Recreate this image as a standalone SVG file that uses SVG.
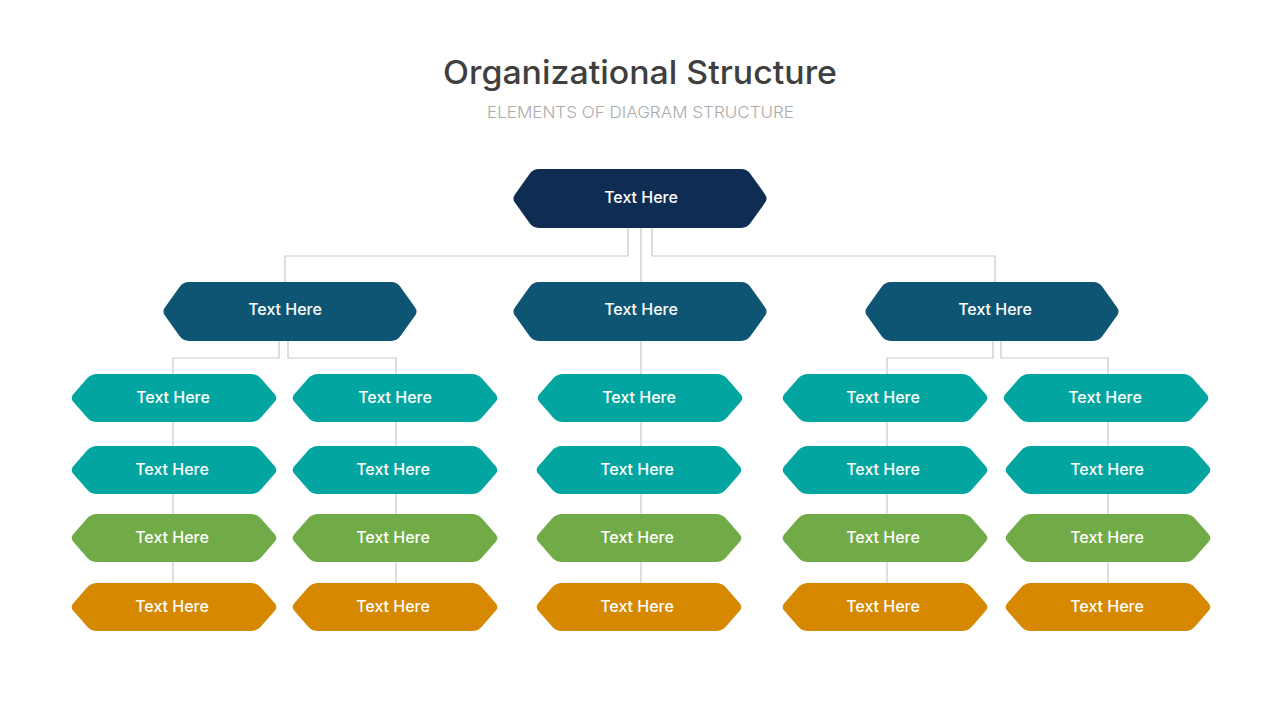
<svg xmlns="http://www.w3.org/2000/svg" xmlns:xlink="http://www.w3.org/1999/xlink" width="1280" height="720" viewBox="0 0 1280 720">
<style>
.c0{fill:#0F2D52}
.c1{fill:#0E5574}
.c2{fill:#02A59F}
.c3{fill:#70AB47}
.c4{fill:#D68800}
.t{font-family:Inter,"Noto Sans","Liberation Sans",sans-serif;font-weight:500;font-size:16px;fill:#FFFFFF;text-anchor:middle}
.conn{fill:none;stroke:#C9C9C9;stroke-width:1.2}
</style>
<defs>
<path id="hexBig" d="M2.9,33.6 Q0,29.5 2.9,25.4 L17.52,4.89 Q21,0 27,0 L229,0 Q235,0 238.48,4.89 L253.1,25.4 Q256,29.5 253.1,33.6 L238.48,54.11 Q235,59 229,59 L27,59 Q21,59 17.52,54.11 Z"/>
<path id="hexLeaf" d="M3.3,27.8 Q0,24 3.3,20.2 L17.05,4.5 Q21,0 27,0 L181,0 Q187,0 190.95,4.5 L204.7,20.2 Q208,24 204.7,27.8 L190.95,43.5 Q187,48 181,48 L27,48 Q21,48 17.05,43.5 Z"/>
</defs>
<rect width="1280" height="720" fill="#FFFFFF"/>
<text x="640" y="84" text-anchor="middle" font-family="Inter,'Noto Sans','Liberation Sans',sans-serif" font-weight="500" font-size="33" fill="#3F3F3F" textLength="394" lengthAdjust="spacingAndGlyphs">Organizational Structure</text>
<text x="640.5" y="118" text-anchor="middle" font-family="Inter,'Noto Sans','Liberation Sans',sans-serif" font-weight="300" font-size="16" fill="#ABABAB" textLength="307" lengthAdjust="spacingAndGlyphs">ELEMENTS  OF DIAGRAM  STRUCTURE</text>
<g id="connectors">
<path class="conn" d="M628,228 V256 H285 V282"/>
<path class="conn" d="M641,228 V282"/>
<path class="conn" d="M652,228 V256 H995 V282"/>
<path class="conn" d="M279,341 V358 H173 V374"/>
<path class="conn" d="M288,341 V358 H396 V374"/>
<path class="conn" d="M641,341 V583"/>
<path class="conn" d="M993,341 V358 H887 V374"/>
<path class="conn" d="M1001,341 V358 H1108 V374"/>
<path class="conn" d="M173,374 V583"/>
<path class="conn" d="M396,374 V583"/>
<path class="conn" d="M887,374 V583"/>
<path class="conn" d="M1108,374 V583"/>
</g>
<g id="top"><use xlink:href="#hexBig" href="#hexBig" class="c0" x="512" y="169"/><text class="t" x="641" y="203">Text Here</text></g>
<g id="l2-left"><use xlink:href="#hexBig" href="#hexBig" class="c1" x="162" y="282"/><text class="t" x="285" y="315">Text Here</text></g>
<g id="l2-mid"><use xlink:href="#hexBig" href="#hexBig" class="c1" x="512" y="282"/><text class="t" x="641" y="315">Text Here</text></g>
<g id="l2-right"><use xlink:href="#hexBig" href="#hexBig" class="c1" x="864" y="282"/><text class="t" x="995" y="315">Text Here</text></g>

<g id="a1"><use href="#hexLeaf" xlink:href="#hexLeaf" class="c2" x="70" y="374"/><text class="t" x="173" y="403">Text Here</text></g>
<g id="a2"><use href="#hexLeaf" xlink:href="#hexLeaf" class="c2" x="70" y="446"/><text class="t" x="172" y="475">Text Here</text></g>
<g id="a3"><use href="#hexLeaf" xlink:href="#hexLeaf" class="c3" x="70" y="514"/><text class="t" x="172" y="543">Text Here</text></g>
<g id="a4"><use href="#hexLeaf" xlink:href="#hexLeaf" class="c4" x="70" y="583"/><text class="t" x="172" y="612">Text Here</text></g>

<g id="b1"><use href="#hexLeaf" xlink:href="#hexLeaf" class="c2" x="291" y="374"/><text class="t" x="395" y="403">Text Here</text></g>
<g id="b2"><use href="#hexLeaf" xlink:href="#hexLeaf" class="c2" x="291" y="446"/><text class="t" x="393" y="475">Text Here</text></g>
<g id="b3"><use href="#hexLeaf" xlink:href="#hexLeaf" class="c3" x="291" y="514"/><text class="t" x="393" y="543">Text Here</text></g>
<g id="b4"><use href="#hexLeaf" xlink:href="#hexLeaf" class="c4" x="291" y="583"/><text class="t" x="393" y="612">Text Here</text></g>

<g id="c1"><use href="#hexLeaf" xlink:href="#hexLeaf" class="c2" x="536" y="374"/><text class="t" x="639" y="403">Text Here</text></g>
<g id="c2"><use href="#hexLeaf" xlink:href="#hexLeaf" class="c2" x="535" y="446"/><text class="t" x="637" y="475">Text Here</text></g>
<g id="c3"><use href="#hexLeaf" xlink:href="#hexLeaf" class="c3" x="535" y="514"/><text class="t" x="637" y="543">Text Here</text></g>
<g id="c4"><use href="#hexLeaf" xlink:href="#hexLeaf" class="c4" x="535" y="583"/><text class="t" x="637" y="612">Text Here</text></g>

<g id="d1"><use href="#hexLeaf" xlink:href="#hexLeaf" class="c2" x="781" y="374"/><text class="t" x="883" y="403">Text Here</text></g>
<g id="d2"><use href="#hexLeaf" xlink:href="#hexLeaf" class="c2" x="781" y="446"/><text class="t" x="883" y="475">Text Here</text></g>
<g id="d3"><use href="#hexLeaf" xlink:href="#hexLeaf" class="c3" x="781" y="514"/><text class="t" x="883" y="543">Text Here</text></g>
<g id="d4"><use href="#hexLeaf" xlink:href="#hexLeaf" class="c4" x="781" y="583"/><text class="t" x="883" y="612">Text Here</text></g>

<g id="e1"><use href="#hexLeaf" xlink:href="#hexLeaf" class="c2" x="1002" y="374"/><text class="t" x="1105" y="403">Text Here</text></g>
<g id="e2"><use href="#hexLeaf" xlink:href="#hexLeaf" class="c2" x="1004" y="446"/><text class="t" x="1107" y="475">Text Here</text></g>
<g id="e3"><use href="#hexLeaf" xlink:href="#hexLeaf" class="c3" x="1004" y="514"/><text class="t" x="1107" y="543">Text Here</text></g>
<g id="e4"><use href="#hexLeaf" xlink:href="#hexLeaf" class="c4" x="1004" y="583"/><text class="t" x="1107" y="612">Text Here</text></g>
</svg>
